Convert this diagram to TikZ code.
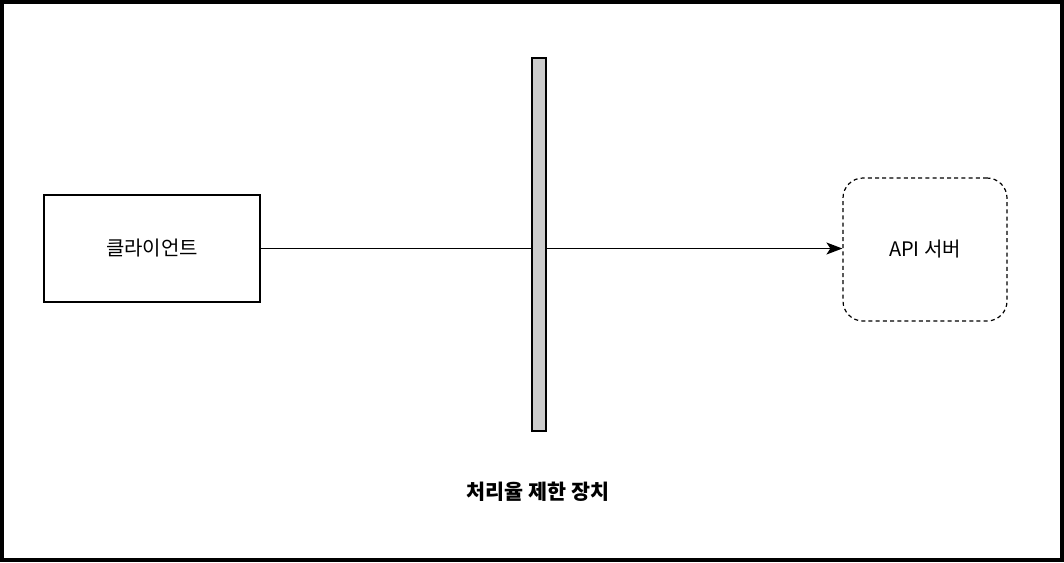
\documentclass[tikz,border=0pt]{standalone}
\usepackage{fontspec}
\setmainfont{Noto Sans CJK KR}
\usetikzlibrary{arrows.meta}
\tikzset{
	box/.style={draw, line width=0.9pt, minimum width=162pt, minimum height=80.25pt, inner sep=0pt},
	server/.style={draw, line width=0.9pt, dash pattern=on 3pt off 2.4pt, rounded corners=15pt,
		minimum width=123pt, minimum height=107.25pt, inner sep=0pt},
	limiter/.style={draw, line width=0.9pt, fill=black!20, minimum width=10.5pt, minimum height=279.75pt, inner sep=0pt},
}
\begin{document}
\begin{tikzpicture}[x=0.75pt, y=-0.75pt, font=\fontsize{15}{18}\selectfont]
	\useasboundingbox (0, 0) rectangle (1064, 562);
	\draw[line width=3pt] (2, 2) rectangle (1062, 560);
	\node[box] (client) at (152, 248.5) {클라이언트};
	\node[server] (api) at (925, 249.5) {API 서버};
	\draw[line width=1.1pt, -{Stealth[length=12pt, width=9pt, inset=3pt]}] (client.east) -- (client.east -| api.west);
	\node[limiter] (limiter) at (539, 244.5) {};
	\node[font=\fontsize{15.5}{18}\selectfont\bfseries] (label) at (538, 492) {처리율 제한 장치};
\end{tikzpicture}
\end{document}
